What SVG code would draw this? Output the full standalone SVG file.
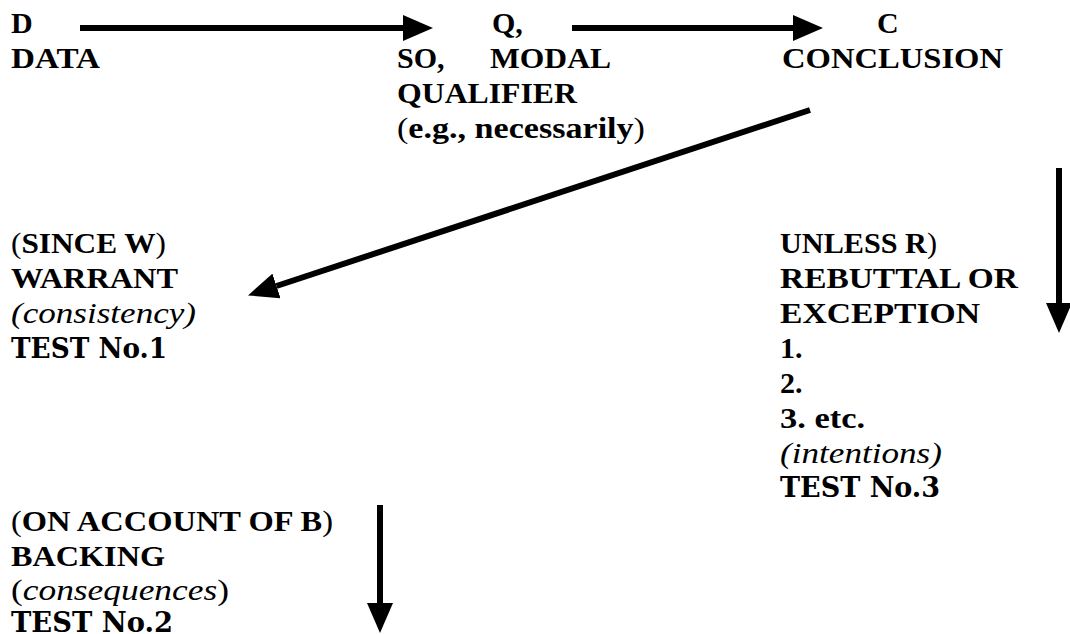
<svg xmlns="http://www.w3.org/2000/svg" width="1070" height="634" viewBox="0 0 1070 634">
<style>
.t{font-family:"Liberation Serif","Times New Roman",serif;font-size:30px;font-weight:bold;fill:#000}
.n{font-weight:normal}
.i{font-style:italic;font-weight:normal}
.tst{font-family:"DejaVu Serif","Liberation Serif",serif;font-size:27px;font-weight:bold;fill:#000}
.ln{stroke:#000;stroke-width:6;fill:none}
</style>
<defs>
<marker id="ah" viewBox="0 0 30 26" refX="0" refY="13" markerWidth="30" markerHeight="26" markerUnits="userSpaceOnUse" orient="auto">
<path d="M0,0 L30,13 L0,26 Z" fill="#000"/>
</marker>
</defs>
<rect width="1070" height="634" fill="#fff"/>
<g id="connectors">
<line class="ln" x1="80" y1="28" x2="403" y2="28" marker-end="url(#ah)"/>
<line class="ln" x1="572" y1="28" x2="793" y2="28" marker-end="url(#ah)"/>
<line class="ln" x1="810" y1="110" x2="276.5" y2="286" marker-end="url(#ah)"/>
<line class="ln" x1="1059" y1="168" x2="1059" y2="303" marker-end="url(#ah)"/>
<line class="ln" x1="380" y1="505" x2="380" y2="603" marker-end="url(#ah)"/>
</g>
<g id="data">
<text class="t" x="11" y="33">D</text>
<text class="t" x="11" y="68" textLength="89" lengthAdjust="spacingAndGlyphs">DATA</text>
</g>
<g id="qualifier">
<text class="t" x="492" y="33">Q,</text>
<text class="t" x="397" y="68">SO,</text>
<text class="t" x="490" y="68" textLength="121" lengthAdjust="spacingAndGlyphs">MODAL</text>
<text class="t" x="397" y="103" textLength="180" lengthAdjust="spacingAndGlyphs">QUALIFIER</text>
<text class="t" x="397" y="138" textLength="248" lengthAdjust="spacingAndGlyphs"><tspan class="n">(</tspan>e.g., necessarily<tspan class="n">)</tspan></text>
</g>
<g id="conclusion">
<text class="t" x="877" y="33">C</text>
<text class="t" x="782" y="68" textLength="221" lengthAdjust="spacingAndGlyphs">CONCLUSION</text>
</g>
<g id="warrant">
<text class="t" x="11" y="253" textLength="155" lengthAdjust="spacingAndGlyphs"><tspan class="n">(</tspan>SINCE W<tspan class="n">)</tspan></text>
<text class="t" x="11" y="288" textLength="167" lengthAdjust="spacingAndGlyphs">WARRANT</text>
<text class="t i" x="11" y="323" textLength="185" lengthAdjust="spacingAndGlyphs">(consistency)</text>
<text class="tst" x="11" y="358" textLength="156" lengthAdjust="spacingAndGlyphs">TEST No.1</text>
</g>
<g id="rebuttal">
<text class="t" x="780" y="253" textLength="157" lengthAdjust="spacingAndGlyphs">UNLESS R<tspan class="n">)</tspan></text>
<text class="t" x="780" y="288" textLength="238" lengthAdjust="spacingAndGlyphs">REBUTTAL OR</text>
<text class="t" x="780" y="323" textLength="200" lengthAdjust="spacingAndGlyphs">EXCEPTION</text>
<text class="t" x="780" y="358">1.</text>
<text class="t" x="780" y="393">2.</text>
<text class="t" x="780" y="428" textLength="85" lengthAdjust="spacingAndGlyphs">3. etc.</text>
<text class="t i" x="780" y="463" textLength="162" lengthAdjust="spacingAndGlyphs">(intentions)</text>
<text class="tst" x="780" y="497" textLength="160" lengthAdjust="spacingAndGlyphs">TEST No.3</text>
</g>
<g id="backing">
<text class="t" x="11" y="531" textLength="322" lengthAdjust="spacingAndGlyphs"><tspan class="n">(</tspan>ON ACCOUNT OF B<tspan class="n">)</tspan></text>
<text class="t" x="11" y="566" textLength="154" lengthAdjust="spacingAndGlyphs">BACKING</text>
<text class="t" x="11" y="600" textLength="218" lengthAdjust="spacingAndGlyphs"><tspan class="n">(</tspan><tspan class="i">consequences</tspan><tspan class="n">)</tspan></text>
<text class="tst" x="11" y="632" textLength="162" lengthAdjust="spacingAndGlyphs">TEST No.2</text>
</g>
</svg>
